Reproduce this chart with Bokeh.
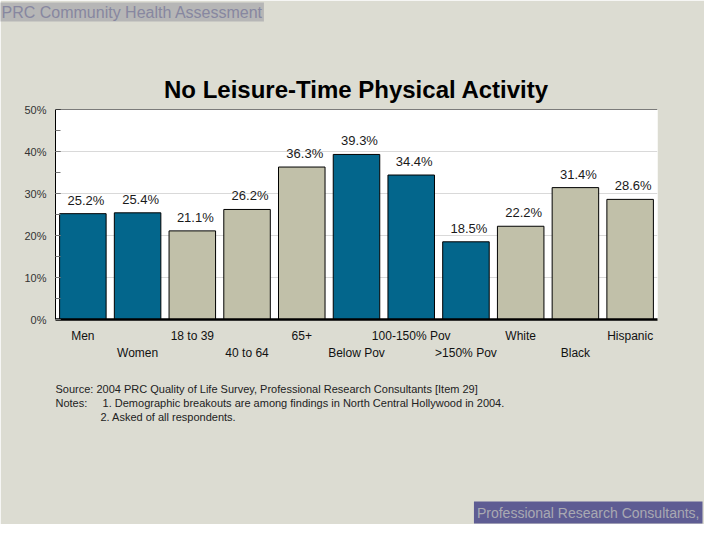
from bokeh.core.properties import value
from bokeh.embed import file_html
from bokeh.resources import INLINE
from bokeh.plotting import figure
from bokeh.models import (ColumnDataSource, FactorRange, CategoricalAxis, CustomJSTickFormatter,
                          SingleIntervalTicker, PrintfTickFormatter, Span, Title)
from bokeh.transform import factor_cmap

# data
categories = ["Men", "Women", "18 to 39", "40 to 64", "65+", "Below Pov",
              "100-150% Pov", ">150% Pov", "White", "Black", "Hispanic"]
groups = ["Gender", "Gender", "Age", "Age", "Age", "Income",
          "Income", "Income", "Race", "Race", "Race"]
values = [25.2, 25.4, 21.1, 26.2, 36.3, 39.3, 34.4, 18.5, 22.2, 31.4, 28.6]
group_names = ["Gender", "Age", "Income", "Race"]
group_colors = ["#03668c", "#c1c0a9", "#03668c", "#c1c0a9"]

title_text = "No Leisure-Time Physical Activity"
header_text = "PRC Community Health Assessment"
source_text = "Source: 2004 PRC Quality of Life Survey, Professional Research Consultants [Item 29]"
notes_label = "Notes:"
note_items = [
    "1. Demographic breakouts are among findings in North Central Hollywood in 2004.",
    "2. Asked of all respondents.",
]
company_text = "Professional Research Consultants,"

FONT = "Liberation Sans"
NB = "\u00a0"

source = ColumnDataSource(dict(
    cat=categories,
    group=groups,
    value=values,
    label=[f"{v:.1f}%" for v in values],
))

p = figure(width=704, height=524, x_range=FactorRange(factors=categories), y_range=(0, 50),
           output_backend="svg", toolbar_location=None,
           min_border_left=55, min_border_right=47, min_border_top=109, min_border_bottom=205)
p.title = None
p.border_fill_color = "#dcdcd2"
p.background_fill_color = "white"
p.outline_line_color = None

p.vbar(x="cat", top="value", width=0.85, source=source,
       fill_color=factor_cmap("group", palette=group_colors, factors=group_names),
       line_color="black", line_width=1)

p.text(x="cat", y="value", text="label", source=source, text_align="center",
       text_baseline="bottom", y_offset=-6, x_offset=3,
       text_font=value(FONT), text_font_size="13px", text_color="#1a1a1a")

# top border of plot area
p.add_layout(Span(location=50, dimension="width", line_color="black", line_width=1))

# y axis
p.yaxis.ticker = SingleIntervalTicker(interval=10, num_minor_ticks=2)
p.yaxis.formatter = PrintfTickFormatter(format="%d%%")
p.yaxis.axis_line_color = "black"
p.yaxis.major_tick_in = 5
p.yaxis.major_tick_out = 0
p.yaxis.minor_tick_in = 5
p.yaxis.minor_tick_out = 0
p.yaxis.major_tick_line_color = "#777777"
p.yaxis.minor_tick_line_color = "#777777"
p.yaxis.major_label_standoff = 9
p.yaxis.major_label_text_font = FONT
p.yaxis.major_label_text_font_size = "11px"
p.yaxis.major_label_text_color = "#333333"

p.xgrid.grid_line_color = None
p.ygrid.grid_line_color = "#d9d9d9"

# staggered category labels: two axes, odd and even
xa = p.xaxis[0]
xa.formatter = CustomJSTickFormatter(code="return index % 2 == 0 ? tick : '';")
xa.axis_line_color = "black"
xa.axis_line_width = 2.5
xa.major_tick_in = 0
xa.major_tick_out = 0
xa.major_label_standoff = 9
xa.major_label_text_font = FONT
xa.major_label_text_font_size = "12px"
xa.major_label_text_color = "#111111"

xb = CategoricalAxis(formatter=CustomJSTickFormatter(code="return index % 2 == 1 ? tick : '';"))
xb.axis_line_color = None
xb.major_tick_in = 0
xb.major_tick_out = 0
xb.major_label_standoff = 0
xb.major_label_text_font = FONT
xb.major_label_text_font_size = "12px"
xb.major_label_text_color = "#111111"
p.add_layout(xb, "below")


def spacer(gap, side):
    p.add_layout(Title(text=NB, text_font_size="1px", standoff=gap), side)


# above: chart title next to the frame, then a gap, then the slide header
p.add_layout(Title(text=title_text, align="center", text_font=FONT, text_font_size="24px",
                   text_font_style="bold", text_color="black", standoff=14), "above")
spacer(42, "above")
p.add_layout(Title(text=header_text, align="left", offset=-55, text_font=FONT,
                   text_font_size="16px", text_font_style="normal", text_color="#8787a0",
                   background_fill_color="#b6b6b6", padding=1, standoff=0), "above")

# below: footer lines, then the company strip at the bottom
spacer(15, "below")
footer = [
    (source_text, 0),
    (notes_label + NB * 5 + note_items[0], 0),
    (note_items[1], 45),
]
for text, off in footer:
    p.add_layout(Title(text=text, align="left", offset=off, text_font=FONT,
                       text_font_size="11px", text_font_style="normal",
                       text_color="#222222", standoff=0), "below")
spacer(74, "below")
p.add_layout(Title(text=company_text, align="right", offset=-45, text_font=FONT,
                   text_font_size="14px", text_font_style="normal", text_color="#a9a9b2",
                   background_fill_color="#5e5c93", padding=3, standoff=0), "below")

open("out.html", "w").write(file_html(p, INLINE))
